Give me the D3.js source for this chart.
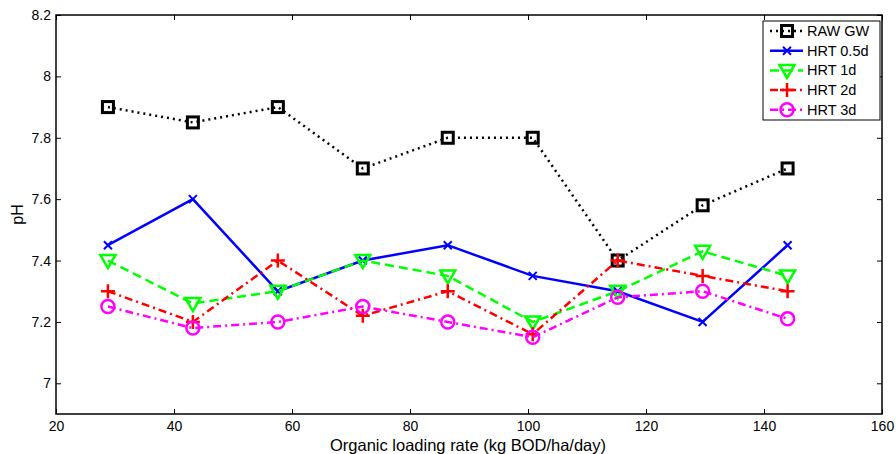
<html>
<head>
<meta charset="utf-8">
<title>pH</title>
<script src="https://cdn.jsdelivr.net/npm/d3@7"></script>
<style>
body { margin: 0; background: #fff; }
text { font-family: "Liberation Sans", Arial, sans-serif; }
</style>
</head>
<body>
<script>
var olr = [28.8, 43.2, 57.6, 72, 86.4, 100.8, 115.2, 129.6, 144];
var rawGW  = [7.9, 7.85, 7.9, 7.7, 7.8, 7.8, 7.4, 7.58, 7.7];
var hrt05  = [7.45, 7.6, 7.3, 7.4, 7.45, 7.35, 7.3, 7.2, 7.45];
var hrt1   = [7.4, 7.26, 7.3, 7.4, 7.35, 7.2, 7.3, 7.43, 7.35];
var hrt2   = [7.3, 7.2, 7.4, 7.22, 7.3, 7.16, 7.4, 7.35, 7.3];
var hrt3   = [7.25, 7.18, 7.2, 7.25, 7.2, 7.15, 7.28, 7.3, 7.21];
var xTicks = [20, 40, 60, 80, 100, 120, 140, 160];
var yTicks = [7, 7.2, 7.4, 7.6, 7.8, 8, 8.2];

var series = [
  {name: "RAW GW",   values: rawGW, color: "#000000", dash: "2,4", marker: "square"},
  {name: "HRT 0.5d", values: hrt05, color: "#0000ff", dash: null,  marker: "x"},
  {name: "HRT 1d",   values: hrt1,  color: "#00ff00", dash: "9,5", marker: "tri"},
  {name: "HRT 2d",   values: hrt2,  color: "#ff0000", dash: "8,4,2,4", marker: "plus"},
  {name: "HRT 3d",   values: hrt3,  color: "#ff00ff", dash: "8,4,2,4", marker: "circle"}
];

var svg = d3.select("body").append("svg")
    .attr("width", 896).attr("height", 454);

var L = 56, R = 882, T = 15, B = 414;
var x = d3.scaleLinear().domain([20, 160]).range([L, R]);
var y = d3.scaleLinear().domain([6.9, 8.2]).range([B, T]);

// axes, ticks inward like matlab
svg.append("g").attr("transform", "translate(0," + B + ")")
    .call(d3.axisBottom(x).tickValues(xTicks).tickSizeInner(-5).tickSizeOuter(0).tickPadding(7));
svg.append("g").attr("transform", "translate(0," + T + ")")
    .call(d3.axisTop(x).tickValues(xTicks).tickSizeInner(-5).tickSizeOuter(0).tickFormat(""));
svg.append("g").attr("transform", "translate(" + L + ",0)")
    .call(d3.axisLeft(y).tickValues(yTicks).tickSizeInner(-5).tickSizeOuter(0).tickPadding(5)
      .tickFormat(function(d) { return String(d); }));
svg.append("g").attr("transform", "translate(" + R + ",0)")
    .call(d3.axisRight(y).tickValues(yTicks).tickSizeInner(-5).tickSizeOuter(0).tickFormat(""));
svg.selectAll(".domain").remove();
svg.selectAll(".tick text").attr("font-size", 14).attr("fill", "#000")
    .attr("font-family", "'Liberation Sans', Arial, sans-serif");
svg.selectAll(".tick line").attr("stroke", "#000");
svg.append("rect").attr("x", L).attr("y", T).attr("width", R - L).attr("height", B - T)
    .attr("fill", "none").attr("stroke", "#000").attr("stroke-width", 1.5);

svg.append("text").attr("x", 468).attr("y", 451).attr("text-anchor", "middle")
    .attr("font-size", 16.5).text("Organic loading rate (kg BOD/ha/day)");
svg.append("text").attr("transform", "translate(23," + ((T + B) / 2) + ") rotate(-90)")
    .attr("text-anchor", "middle").attr("font-size", 16).text("pH");

function drawMarker(g, kind, color, cx, cy) {
  if (kind === "square") {
    g.append("rect").attr("x", cx - 5.5).attr("y", cy - 5.5).attr("width", 11).attr("height", 11)
      .attr("fill", "none").attr("stroke", color).attr("stroke-width", 3);
  } else if (kind === "x") {
    g.append("path").attr("d", "M" + (cx - 4) + "," + (cy - 4) + "L" + (cx + 4) + "," + (cy + 4) +
      "M" + (cx - 4) + "," + (cy + 4) + "L" + (cx + 4) + "," + (cy - 4))
      .attr("stroke", color).attr("stroke-width", 2);
  } else if (kind === "tri") {
    g.append("path").attr("d", "M" + (cx - 7.5) + "," + (cy - 5.5) + "L" + (cx + 7.5) + "," + (cy - 5.5) +
      "L" + cx + "," + (cy + 7.5) + "Z")
      .attr("fill", "none").attr("stroke", color).attr("stroke-width", 2.5);
  } else if (kind === "plus") {
    g.append("path").attr("d", "M" + (cx - 7) + "," + cy + "L" + (cx + 7) + "," + cy +
      "M" + cx + "," + (cy - 7) + "L" + cx + "," + (cy + 7))
      .attr("stroke", color).attr("stroke-width", 2.5);
  } else if (kind === "circle") {
    g.append("circle").attr("cx", cx).attr("cy", cy).attr("r", 6.5)
      .attr("fill", "none").attr("stroke", color).attr("stroke-width", 2.5);
  }
}

var line = d3.line().x(function(d, i) { return x(olr[i]); }).y(function(d) { return y(d); });

series.forEach(function(s) {
  var g = svg.append("g");
  g.append("path").attr("d", line(s.values)).attr("fill", "none")
    .attr("stroke", s.color).attr("stroke-width", 2.5)
    .attr("stroke-dasharray", s.dash);
  s.values.forEach(function(v, i) { drawMarker(g, s.marker, s.color, x(olr[i]), y(v)); });
});

// legend
var lg = svg.append("g");
lg.append("rect").attr("x", 763).attr("y", 21).attr("width", 117).attr("height", 99)
  .attr("fill", "#fff").attr("stroke", "#000").attr("stroke-width", 1);
series.forEach(function(s, i) {
  var yy = 31 + i * 19.7;
  lg.append("line").attr("x1", 770).attr("x2", 803).attr("y1", yy).attr("y2", yy)
    .attr("stroke", s.color).attr("stroke-width", 2.5).attr("stroke-dasharray", s.dash);
  drawMarker(lg, s.marker, s.color, 787, yy);
  lg.append("text").attr("x", 807).attr("y", yy + 5).attr("font-size", 14.5).text(s.name);
});
</script>
</body>
</html>
